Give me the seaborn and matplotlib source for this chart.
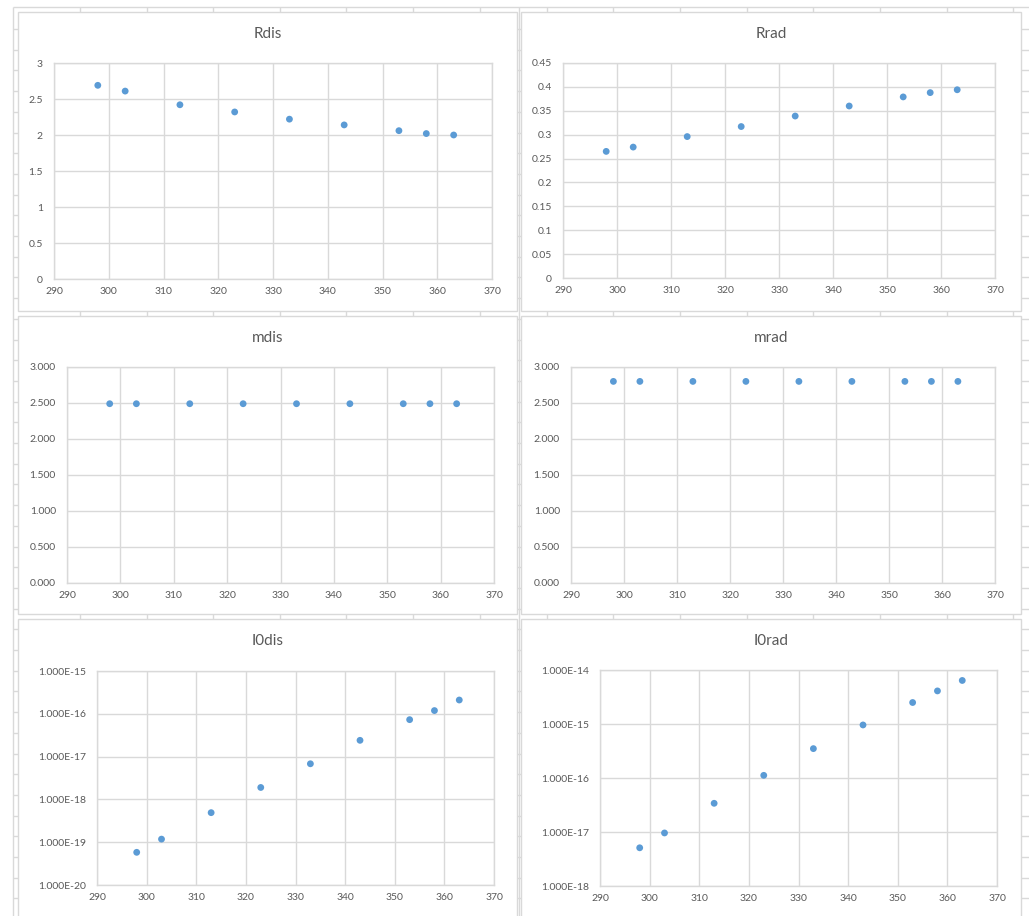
import numpy as np
import pandas as pd
import matplotlib
matplotlib.use("Agg")
import matplotlib.pyplot as plt
from matplotlib.patches import Rectangle
from matplotlib.ticker import FixedLocator, FuncFormatter, NullLocator
import seaborn as sns

# ---- data -------------------------------------------------------------
temps = [298, 303, 313, 323, 333, 343, 353, 358, 363]

r_dis = [2.69, 2.61, 2.42, 2.32, 2.22, 2.14, 2.06, 2.02, 2.00]
r_rad = [0.265, 0.274, 0.296, 0.317, 0.339, 0.360, 0.379, 0.388, 0.394]
m_dis = [2.49, 2.49, 2.49, 2.49, 2.49, 2.49, 2.49, 2.49, 2.49]
m_rad = [2.80, 2.80, 2.80, 2.80, 2.80, 2.80, 2.80, 2.80, 2.80]
i0_dis = [5.8e-20, 1.18e-19, 4.9e-19, 1.9e-18, 6.8e-18, 2.4e-17, 7.3e-17, 1.19e-16, 2.1e-16]
i0_rad = [5.1e-18, 9.6e-18, 3.4e-17, 1.12e-16, 3.5e-16, 9.6e-16, 2.5e-15, 4.1e-15, 6.4e-15]

titles = ["Rdis", "Rrad", "mdis", "mrad", "I0dis", "I0rad"]
x_ticks = [290, 300, 310, 320, 330, 340, 350, 360, 370]

# ---- style ------------------------------------------------------------
sns.set_theme(style="whitegrid")
plt.rcParams["font.family"] = ["Lato", "DejaVu Sans"]

W, H = 1029, 916
DPI = 100
GRID = "#d9d9d9"
TEXT = "#595959"
BLUE = "#5b9bd5"

fig = plt.figure(figsize=(W / DPI, H / DPI), dpi=DPI)
fig.patch.set_facecolor("white")

# worksheet cell grid behind the chart objects
bg = fig.add_axes([0, 0, 1, 1], zorder=0)
bg.set_xlim(0, W)
bg.set_ylim(H, 0)
bg.axis("off")
col_lines = [13, 80, 147, 213, 280, 346, 413, 480, 519, 547, 613, 680, 747, 813, 880, 947, 1013]
row_lines = [7] + list(np.arange(29, H, 20.7))
bg.vlines(col_lines, 7, H, color=GRID, lw=1, zorder=1)
bg.hlines(row_lines, 13, W, color=GRID, lw=1, zorder=1)

# chart object frames (pixel boxes: left, top, right, bottom)
panels = [
    (18, 12, 517, 311), (521, 12, 1021, 311),
    (18, 316, 517, 614), (521, 316, 1021, 614),
    (18, 619, 517, 918), (521, 619, 1021, 918),
]
for (x0, y0, x1, y1) in panels:
    bg.add_patch(Rectangle((x0, y0), x1 - x0, y1 - y0, fc="white", ec=GRID,
                           lw=1, zorder=3))

# plot areas in pixels (left, top, right, bottom)
areas = [
    (54, 63, 492, 279), (563, 63, 995, 278),
    (67, 367, 494, 583), (571, 367, 995, 583),
    (97, 671, 494, 885), (600, 670, 997, 886),
]


def to_fig(box):
    x0, y0, x1, y1 = box
    return [x0 / W, 1 - y1 / H, (x1 - x0) / W, (y1 - y0) / H]


def fmt_plain(v, pos):
    return f"{v:.2f}".rstrip("0").rstrip(".")


def fmt_three(v, pos):
    return f"{v:.3f}"


def fmt_sci(v, pos):
    m, e = f"{v:.3E}".split("E")
    return f"{m}E{int(e)}"


series = [r_dis, r_rad, m_dis, m_rad, i0_dis, i0_rad]
y_setups = [
    dict(lim=(0, 3), ticks=[0, 0.5, 1, 1.5, 2, 2.5, 3], fmt=fmt_plain, log=False),
    dict(lim=(0, 0.45), ticks=[0, 0.05, 0.1, 0.15, 0.2, 0.25, 0.3, 0.35, 0.4, 0.45], fmt=fmt_plain, log=False),
    dict(lim=(0, 3), ticks=[0, 0.5, 1, 1.5, 2, 2.5, 3], fmt=fmt_three, log=False),
    dict(lim=(0, 3), ticks=[0, 0.5, 1, 1.5, 2, 2.5, 3], fmt=fmt_three, log=False),
    dict(lim=(1e-20, 1e-15), ticks=[1e-20, 1e-19, 1e-18, 1e-17, 1e-16, 1e-15], fmt=fmt_sci, log=True),
    dict(lim=(1e-18, 1e-14), ticks=[1e-18, 1e-17, 1e-16, 1e-15, 1e-14], fmt=fmt_sci, log=True),
]

for i, (vals, setup) in enumerate(zip(series, y_setups)):
    ax = fig.add_axes(to_fig(areas[i]), zorder=1)
    df = pd.DataFrame({"T": temps, "v": vals})
    sns.scatterplot(data=df, x="T", y="v", ax=ax, color=BLUE, s=24,
                    edgecolor="none", linewidth=0, zorder=3)
    if setup["log"]:
        ax.set_yscale("log")
        ax.yaxis.set_minor_locator(NullLocator())
    ax.set_xlim(290, 370)
    ax.set_ylim(*setup["lim"])
    ax.xaxis.set_major_locator(FixedLocator(x_ticks))
    ax.yaxis.set_major_locator(FixedLocator(setup["ticks"]))
    ax.yaxis.set_major_formatter(FuncFormatter(setup["fmt"]))
    ax.set_xlabel("")
    ax.set_ylabel("")
    ax.set_facecolor("white")
    ax.grid(True, which="major", color=GRID, lw=1)
    for sp in ax.spines.values():
        sp.set_visible(True)
        sp.set_color(GRID)
        sp.set_linewidth(1)
    ax.tick_params(axis="both", length=0, labelsize=7.5, labelcolor=TEXT)
    ax.tick_params(axis="x", pad=6)
    ax.tick_params(axis="y", pad=8)

    x0, y0, x1, y1 = panels[i]
    cx = (x0 + x1) / 2
    ty = y0 + 22
    fig.text(cx / W, 1 - ty / H, titles[i], ha="center", va="center",
             fontsize=11, color=TEXT)

fig.savefig("out.png", dpi=DPI, facecolor="white")
